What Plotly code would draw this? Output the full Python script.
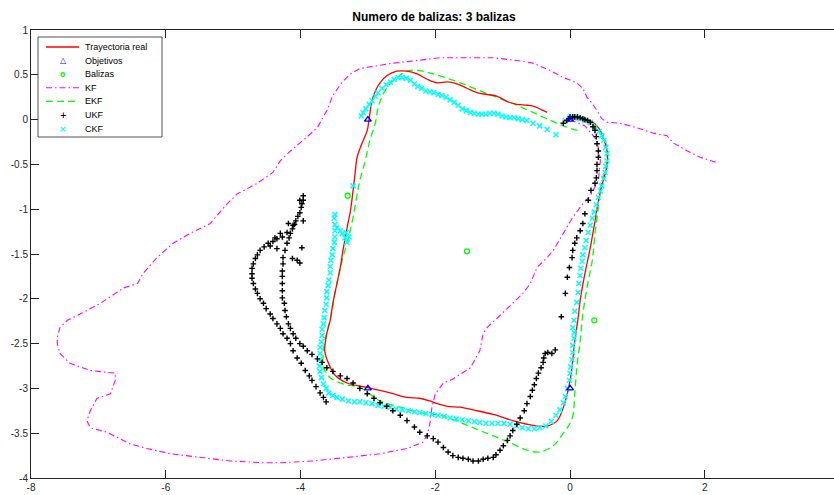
import plotly.graph_objects as go

# ---------------- data ----------------
x_ticks = [-8, -6, -4, -2, 0, 2]
x_tick_labels = ["-8", "-6", "-4", "-2", "0", "2"]
y_ticks = [-4, -3.5, -3, -2.5, -2, -1.5, -1, -0.5, 0, 0.5, 1]
y_tick_labels = ["-4", "-3.5", "-3", "-2.5", "-2", "-1.5", "-1", "-0.5", "0", "0.5", "1"]

# Ground-truth trajectory
real_pts = [
    (0.00, 0.02), (0.15, 0.01), (0.30, -0.01), (0.42, -0.09), (0.49, -0.20), (0.55, -0.35),
    (0.55, -0.51), (0.47, -0.74), (0.42, -0.91), (0.37, -1.13), (0.30, -1.43), (0.22, -1.72),
    (0.15, -2.02), (0.12, -2.21), (0.07, -2.47), (0.04, -2.69), (0.00, -2.91), (-0.07, -3.14),
    (-0.19, -3.36), (-0.34, -3.42), (-0.49, -3.42), (-0.64, -3.40), (-0.85, -3.36),
    (-1.14, -3.29), (-1.44, -3.24), (-1.63, -3.21), (-1.82, -3.20), (-1.97, -3.17),
    (-2.08, -3.14), (-2.23, -3.11), (-2.42, -3.10), (-2.67, -3.05), (-3.01, -2.99),
    (-3.31, -2.94), (-3.49, -2.85), (-3.59, -2.71), (-3.64, -2.58), (-3.61, -2.39),
    (-3.56, -2.24), (-3.52, -2.05), (-3.46, -1.83), (-3.41, -1.65), (-3.37, -1.46),
    (-3.31, -1.21), (-3.26, -1.02), (-3.22, -0.79), (-3.19, -0.60), (-3.16, -0.42),
    (-3.09, -0.27), (-3.01, -0.12), (-2.98, 0.02), (-2.94, 0.21), (-2.89, 0.32),
    (-2.82, 0.41), (-2.72, 0.49), (-2.57, 0.54), (-2.42, 0.54), (-2.27, 0.51), (-2.12, 0.45),
    (-1.97, 0.41), (-1.82, 0.42), (-1.68, 0.40), (-1.53, 0.35), (-1.38, 0.30), (-1.23, 0.28),
    (-1.08, 0.26), (-0.93, 0.20), (-0.79, 0.17), (-0.64, 0.16), (-0.55, 0.15), (-0.34, 0.08),
]

# Waypoints and beacons
obj_x = [0, 0, -3, -3]
obj_y = [0, -3, -3, 0]
bal_x = [-3.30, -1.53, 0.36]
bal_y = [-0.85, -1.47, -2.24]

# Kalman filter estimate
kf_pts = [
    (0.00, 0.00), (0.22, -0.07), (0.40, -0.23), (0.45, -0.46), (0.42, -0.68), (0.30, -0.85),
    (0.19, -0.94), (0.04, -1.09), (-0.10, -1.27), (-0.25, -1.46), (-0.34, -1.54), (-0.49, -1.65),
    (-0.59, -1.83), (-0.70, -1.94), (-0.85, -2.05), (-1.04, -2.19), (-1.23, -2.32), (-1.29, -2.39),
    (-1.34, -2.58), (-1.48, -2.77), (-1.75, -2.90), (-1.88, -2.94), (-2.00, -3.06), (-2.05, -3.21),
    (-2.08, -3.39), (-2.11, -3.50), (-2.18, -3.60), (-2.42, -3.67), (-2.82, -3.73), (-3.31, -3.77),
    (-3.81, -3.81), (-4.30, -3.83), (-4.55, -3.83), (-5.04, -3.81), (-5.53, -3.77), (-5.93, -3.73),
    (-6.28, -3.67), (-6.53, -3.62), (-6.87, -3.49), (-7.12, -3.44), (-7.17, -3.36), (-7.12, -3.25),
    (-7.02, -3.11), (-6.82, -3.06), (-6.75, -2.91), (-6.75, -2.83), (-7.12, -2.80), (-7.42, -2.72),
    (-7.57, -2.61), (-7.61, -2.50), (-7.61, -2.43), (-7.57, -2.32), (-7.46, -2.24), (-7.27, -2.17),
    (-6.97, -2.05), (-6.63, -1.88), (-6.42, -1.83), (-6.34, -1.72), (-6.13, -1.54), (-5.89, -1.38),
    (-5.64, -1.27), (-5.34, -1.16), (-5.09, -0.94), (-4.94, -0.83), (-4.64, -0.71), (-4.41, -0.59),
    (-4.30, -0.46), (-4.15, -0.35), (-3.96, -0.23), (-3.75, -0.09), (-3.61, 0.10), (-3.52, 0.27),
    (-3.38, 0.42), (-3.26, 0.51), (-3.12, 0.57), (-2.86, 0.60), (-2.63, 0.63), (-2.27, 0.66),
    (-1.93, 0.69), (-1.53, 0.69), (-1.14, 0.69), (-0.79, 0.66), (-0.55, 0.63), (-0.30, 0.55),
    (-0.10, 0.47), (0.10, 0.41), (0.19, 0.35), (0.25, 0.25), (0.33, 0.18), (0.40, 0.10),
    (0.47, 0.01), (0.55, -0.03), (0.74, -0.04), (0.99, -0.09), (1.23, -0.15), (1.44, -0.18),
    (1.53, -0.26), (1.74, -0.35), (1.93, -0.42), (2.18, -0.48),
]

# Extended Kalman filter estimate
ekf_pts = [
    (0.00, 0.01), (0.22, -0.01), (0.42, -0.10), (0.52, -0.23), (0.55, -0.40), (0.52, -0.57),
    (0.47, -0.68), (0.42, -0.98), (0.37, -1.27), (0.33, -1.57), (0.25, -1.88), (0.19, -2.17),
    (0.15, -2.47), (0.10, -2.77), (0.07, -3.06), (0.03, -3.34), (-0.10, -3.50), (-0.25, -3.64),
    (-0.45, -3.71), (-0.64, -3.69), (-0.85, -3.62), (-1.04, -3.56), (-1.34, -3.47), (-1.63, -3.38),
    (-1.93, -3.30), (-2.23, -3.27), (-2.52, -3.21), (-2.82, -3.14), (-3.12, -2.99), (-3.37, -2.95),
    (-3.56, -2.88), (-3.66, -2.77), (-3.66, -2.60), (-3.64, -2.47), (-3.59, -2.32), (-3.53, -2.13),
    (-3.49, -1.94), (-3.44, -1.76), (-3.37, -1.54), (-3.29, -1.32), (-3.22, -1.09), (-3.15, -0.79),
    (-3.12, -0.68), (-3.04, -0.46), (-2.97, -0.23), (-2.89, -0.04), (-2.85, 0.13), (-2.77, 0.29),
    (-2.67, 0.40), (-2.57, 0.47), (-2.42, 0.54), (-2.27, 0.55), (-2.03, 0.51), (-1.63, 0.41),
    (-1.23, 0.29), (-0.85, 0.18), (-0.55, 0.08), (-0.10, -0.07), (0.15, -0.13),
]

# Unscented Kalman filter estimate
ukf_pts = [
    (-0.10, -0.04), (-0.05, -0.01), (-0.02, 0.01), (0.00, 0.03), (0.04, 0.03), (0.07, 0.03),
    (0.11, 0.03), (0.15, 0.02), (0.19, 0.01), (0.22, 0.00), (0.26, -0.01), (0.30, -0.03),
    (0.34, -0.08), (0.37, -0.12), (0.39, -0.19), (0.40, -0.27), (0.42, -0.35), (0.42, -0.42),
    (0.40, -0.50), (0.40, -0.57), (0.39, -0.65), (0.37, -0.71), (0.31, -0.79), (0.27, -0.90),
    (0.22, -1.05), (0.19, -1.16), (0.15, -1.24), (0.10, -1.32), (0.07, -1.38), (0.04, -1.46),
    (0.03, -1.54), (-0.01, -1.65), (-0.04, -1.76), (-0.07, -1.94), (-0.13, -2.20),
    (-0.22, -2.57), (-0.27, -2.61), (-0.33, -2.60), (-0.37, -2.61), (-0.39, -2.66), (-0.40, -2.71),
    (-0.43, -2.77), (-0.47, -2.83), (-0.50, -2.89), (-0.53, -2.96), (-0.56, -3.02), (-0.59, -3.09),
    (-0.64, -3.17), (-0.68, -3.25), (-0.74, -3.33), (-0.79, -3.40), (-0.85, -3.47), (-0.89, -3.53),
    (-0.93, -3.58), (-0.99, -3.64), (-1.04, -3.69), (-1.10, -3.74), (-1.14, -3.77), (-1.22, -3.78),
    (-1.29, -3.79), (-1.36, -3.81), (-1.44, -3.81), (-1.51, -3.79), (-1.59, -3.78), (-1.66, -3.77),
    (-1.74, -3.75), (-1.81, -3.71), (-1.88, -3.66), (-1.96, -3.60), (-2.03, -3.56), (-2.12, -3.53),
    (-2.23, -3.49), (-2.31, -3.43), (-2.42, -3.36), (-2.52, -3.30), (-2.63, -3.25), (-2.72, -3.20),
    (-2.82, -3.16), (-2.91, -3.11), (-3.01, -3.06), (-3.12, -3.00), (-3.22, -2.94), (-3.31, -2.89),
    (-3.41, -2.86), (-3.52, -2.81), (-3.61, -2.77), (-3.68, -2.71), (-3.75, -2.67), (-3.83, -2.62),
    (-3.90, -2.58), (-3.96, -2.53), (-4.01, -2.50), (-4.07, -2.44), (-4.11, -2.39), (-4.15, -2.33),
    (-4.18, -2.28), (-4.21, -2.20), (-4.23, -2.13), (-4.24, -2.05), (-4.27, -1.99), (-4.27, -1.91),
    (-4.27, -1.83), (-4.27, -1.75), (-4.27, -1.69), (-4.26, -1.61), (-4.26, -1.54), (-4.23, -1.46),
    (-4.20, -1.38), (-4.17, -1.32), (-4.15, -1.27), (-4.12, -1.22), (-4.09, -1.17), (-4.07, -1.13),
    (-4.04, -1.08), (-4.01, -1.04), (-3.99, -0.98), (-3.98, -0.94),
    (-3.96, -0.85), (-4.01, -0.90), (-3.96, -0.90), (-3.96, -1.13), (-3.98, -1.43), (-4.12, -1.55),
    (-4.05, -1.57), (-4.01, -1.60), (-4.18, -1.16), (-4.30, -1.27), (-4.38, -1.32), (-4.45, -1.41),
    (-4.35, -1.44),
    (-4.11, -1.18), (-4.20, -1.26), (-4.27, -1.31), (-4.35, -1.33), (-4.41, -1.36), (-4.48, -1.38),
    (-4.54, -1.42), (-4.60, -1.46), (-4.64, -1.51), (-4.67, -1.55), (-4.70, -1.61), (-4.72, -1.66),
    (-4.72, -1.72), (-4.72, -1.77), (-4.70, -1.83), (-4.67, -1.89), (-4.64, -1.94), (-4.60, -2.00),
    (-4.55, -2.05), (-4.51, -2.11), (-4.45, -2.17), (-4.41, -2.22), (-4.35, -2.28), (-4.30, -2.33),
    (-4.26, -2.39), (-4.20, -2.44), (-4.15, -2.50), (-4.11, -2.58), (-4.05, -2.66), (-3.99, -2.72),
    (-3.93, -2.80), (-3.87, -2.86), (-3.83, -2.91), (-3.77, -2.98), (-3.71, -3.05), (-3.66, -3.10),
    (-3.62, -3.15),
]

# Cubature Kalman filter estimate
ckf_pts = [
    (-0.07, -0.01), (0.00, 0.03), (0.07, 0.02), (0.15, 0.01), (0.22, -0.01), (0.30, -0.03),
    (0.37, -0.09), (0.43, -0.13), (0.47, -0.18), (0.50, -0.23), (0.53, -0.31), (0.55, -0.38),
    (0.55, -0.46), (0.53, -0.52), (0.52, -0.59), (0.50, -0.66), (0.47, -0.74), (0.45, -0.80),
    (0.42, -0.87), (0.39, -0.95), (0.36, -1.03), (0.33, -1.10), (0.30, -1.18), (0.27, -1.26),
    (0.24, -1.35), (0.22, -1.43), (0.19, -1.51), (0.18, -1.58), (0.16, -1.66), (0.15, -1.74),
    (0.13, -1.83), (0.12, -1.93), (0.10, -2.04), (0.07, -2.14), (0.06, -2.24), (0.04, -2.32),
    (0.06, -2.38), (0.06, -2.44), (0.04, -2.52), (0.04, -2.60), (0.03, -2.68), (0.01, -2.76),
    (0.00, -2.83), (-0.01, -2.91), (-0.04, -3.00), (-0.07, -3.09), (-0.10, -3.16), (-0.15, -3.24),
    (-0.21, -3.30), (-0.28, -3.37), (-0.36, -3.42), (-0.45, -3.44), (-0.53, -3.45), (-0.62, -3.45),
    (-0.71, -3.44), (-0.80, -3.42), (-0.89, -3.40), (-0.98, -3.39), (-1.07, -3.39), (-1.16, -3.39),
    (-1.25, -3.39), (-1.34, -3.38), (-1.42, -3.37), (-1.51, -3.36), (-1.60, -3.35), (-1.69, -3.34),
    (-1.78, -3.33), (-1.87, -3.31), (-1.96, -3.30), (-2.05, -3.29), (-2.14, -3.28), (-2.23, -3.27),
    (-2.31, -3.26), (-2.40, -3.25), (-2.49, -3.24), (-2.58, -3.23), (-2.67, -3.21), (-2.76, -3.20),
    (-2.85, -3.19), (-2.94, -3.17), (-3.03, -3.16), (-3.12, -3.15), (-3.20, -3.15), (-3.29, -3.14),
    (-3.38, -3.12), (-3.46, -3.10), (-3.52, -3.08), (-3.58, -3.05), (-3.62, -3.00), (-3.66, -2.95),
    (-3.69, -2.88), (-3.71, -2.81), (-3.72, -2.75), (-3.72, -2.68), (-3.71, -2.61), (-3.71, -2.54),
    (-3.69, -2.48), (-3.68, -2.41), (-3.68, -2.34), (-3.66, -2.28), (-3.65, -2.21), (-3.64, -2.13),
    (-3.62, -2.06), (-3.61, -1.99), (-3.61, -1.92), (-3.59, -1.85), (-3.58, -1.79), (-3.56, -1.71),
    (-3.56, -1.64), (-3.55, -1.57), (-3.53, -1.51), (-3.52, -1.44), (-3.50, -1.37), (-3.49, -1.31),
    (-3.49, -1.24), (-3.49, -1.17), (-3.50, -1.10), (-3.49, -1.06), (-3.46, -1.21), (-3.41, -1.24),
    (-3.38, -1.27), (-3.34, -1.32), (-3.31, -1.37), (-3.28, -1.31), (-3.32, -1.26), (-3.22, -0.74),
    (-3.10, 0.04), (-3.07, 0.08), (-3.03, 0.12), (-2.98, 0.17), (-2.94, 0.21), (-2.89, 0.26),
    (-2.85, 0.30), (-2.79, 0.35), (-2.73, 0.39), (-2.67, 0.42), (-2.61, 0.45), (-2.55, 0.47),
    (-2.49, 0.47), (-2.43, 0.46), (-2.37, 0.44), (-2.31, 0.40), (-2.26, 0.37), (-2.20, 0.35),
    (-2.14, 0.32), (-2.08, 0.31), (-2.02, 0.30), (-1.96, 0.28), (-1.90, 0.27), (-1.84, 0.25),
    (-1.78, 0.22), (-1.72, 0.19), (-1.66, 0.16), (-1.60, 0.12), (-1.54, 0.10), (-1.48, 0.08),
    (-1.42, 0.07), (-1.36, 0.06), (-1.31, 0.06), (-1.25, 0.06), (-1.19, 0.07), (-1.13, 0.07),
    (-1.07, 0.06), (-1.01, 0.04), (-0.95, 0.03), (-0.89, 0.02), (-0.83, 0.02), (-0.77, 0.01),
    (-0.71, 0.00), (-0.64, -0.01), (-0.55, -0.04), (-0.45, -0.07), (-0.34, -0.11), (-0.21, -0.17),
]

legend_labels = ["Trayectoria real", "Objetivos", "Balizas", "KF", "EKF", "UKF", "CKF"]


def xs(pts):
    return [p[0] for p in pts]


def ys(pts):
    return [p[1] for p in pts]


# ---------------- styling ----------------
AX = "#262626"
FONT = "Liberation Sans, Arial, Helvetica, sans-serif"
RED, BLUE, GREEN, MAGENTA, BLACK, CYAN = "#FF0000", "#0000FF", "#00FF00", "#FF00FF", "#000000", "#00FFFF"

W, H = 834, 495
ML, MR, MT, MB = 31, 0, 30, 17

fig = go.Figure()

fig.add_trace(go.Scatter(x=xs(kf_pts), y=ys(kf_pts), mode="lines", name="KF",
                         line=dict(color=MAGENTA, width=1.1, dash="6px,3px,1.5px,3px")))
fig.add_trace(go.Scatter(x=xs(ekf_pts), y=ys(ekf_pts), mode="lines", name="EKF",
                         line=dict(color=GREEN, width=1.3, dash="7px,4px"), line_shape="spline"))
fig.add_trace(go.Scatter(x=xs(real_pts), y=ys(real_pts), mode="lines", name="Trayectoria real",
                         line=dict(color=RED, width=1.3), line_shape="spline"))
fig.add_trace(go.Scatter(x=xs(ckf_pts), y=ys(ckf_pts), mode="markers", name="CKF",
                         marker=dict(symbol="x-thin", size=5, color=CYAN,
                                     line=dict(color=CYAN, width=1.5))))
fig.add_trace(go.Scatter(x=xs(ukf_pts), y=ys(ukf_pts), mode="markers", name="UKF",
                         marker=dict(symbol="cross-thin", size=4, color=BLACK,
                                     line=dict(color=BLACK, width=1.4))))
fig.add_trace(go.Scatter(x=obj_x, y=obj_y, mode="markers", name="Objetivos",
                         marker=dict(symbol="triangle-up-open", size=6, color=BLUE,
                                     line=dict(color=BLUE, width=1.4))))
fig.add_trace(go.Scatter(x=bal_x, y=bal_y, mode="markers", name="Balizas",
                         marker=dict(symbol="circle-open", size=5, color=GREEN,
                                     line=dict(color=GREEN, width=1.3))))

plot_w = W - ML - MR
plot_h = H - MT - MB


def px_x(p):
    return (p - ML) / plot_w


def px_y(p):
    return (H - MB - p) / plot_h


# ---- legend box (compact, drawn in paper space) ----
shapes = [dict(type="rect", xref="paper", yref="paper",
               x0=px_x(38), x1=px_x(162), y0=px_y(137), y1=px_y(37),
               line=dict(color=AX, width=0.8), fillcolor="white", layer="above")]
annotations = []
row0, step = 47, 13.6
sample_x0, sample_x1, sample_mid, text_x = 46, 79, 63, 83
line_styles = {0: (RED, "solid", 1.3), 3: (MAGENTA, "6px,3px,1.5px,3px", 1.1), 4: (GREEN, "7px,4px", 1.3)}
glyphs = {1: ("\u25B3", BLUE, 8), 2: ("o", GREEN, 8), 5: ("+", BLACK, 8), 6: ("\u00D7", CYAN, 9)}
for i, lab in enumerate(legend_labels):
    yy = px_y(row0 + i * step)
    if i in line_styles:
        c, d, w = line_styles[i]
        shapes.append(dict(type="line", xref="paper", yref="paper", x0=px_x(sample_x0), x1=px_x(sample_x1),
                           y0=yy, y1=yy, line=dict(color=c, width=w, dash=d), layer="above"))
    else:
        g, c, s = glyphs[i]
        annotations.append(dict(text="<b>" + g + "</b>", xref="paper", yref="paper", x=px_x(sample_mid), y=yy,
                                xanchor="center", yanchor="middle", showarrow=False,
                                font=dict(family="DejaVu Sans", size=s, color=c)))
    annotations.append(dict(text=lab, xref="paper", yref="paper", x=px_x(text_x), y=yy,
                            xanchor="left", yanchor="middle", showarrow=False,
                            font=dict(family=FONT, size=9, color="black")))

fig.update_layout(
    width=W, height=H,
    margin=dict(l=ML, r=MR, t=MT, b=MB, pad=0),
    paper_bgcolor="white", plot_bgcolor="white",
    showlegend=False,
    title=dict(text="<b>Numero de balizas: 3 balizas</b>", x=434 / W, xanchor="center",
               y=1 - 17 / H, yanchor="middle", xref="container", yref="container",
               font=dict(family=FONT, size=12, color="black")),
    font=dict(family=FONT, size=10, color=AX),
    shapes=shapes,
    annotations=annotations,
    xaxis=dict(range=[-8, 3.917], tickmode="array", tickvals=x_ticks, ticktext=x_tick_labels,
               ticks="inside", ticklen=8, tickwidth=1, tickcolor=AX,
               showline=True, linecolor=AX, linewidth=1, mirror="ticks",
               showgrid=False, zeroline=False, tickfont=dict(family=FONT, size=10, color=AX)),
    yaxis=dict(range=[-4, 1], tickmode="array", tickvals=y_ticks, ticktext=y_tick_labels,
               ticks="inside", ticklen=8, tickwidth=1, tickcolor=AX,
               showline=True, linecolor=AX, linewidth=1, mirror=False,
               showgrid=False, zeroline=False, tickfont=dict(family=FONT, size=10, color=AX)),
)

fig.write_html("out.html")
